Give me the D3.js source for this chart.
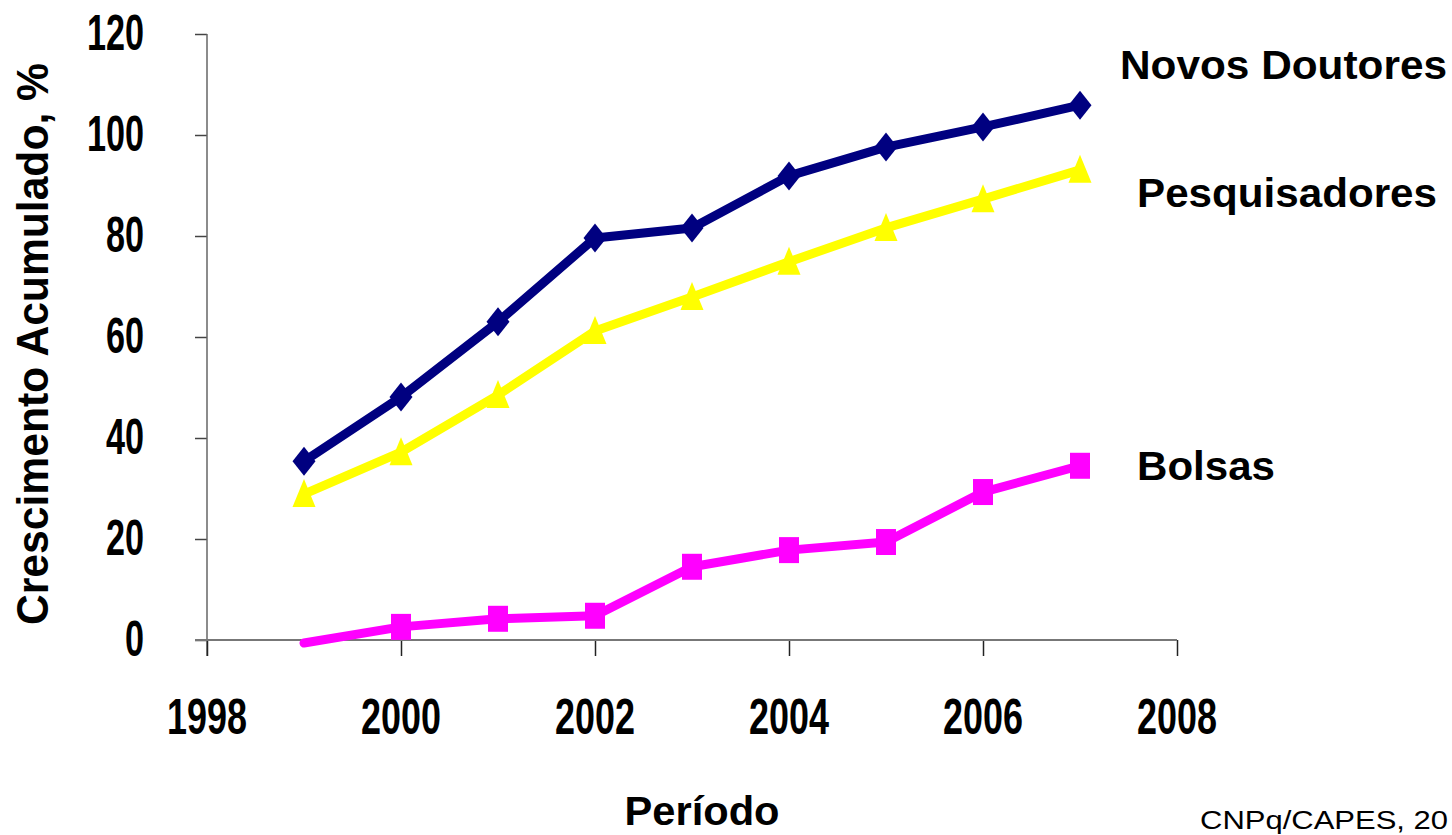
<!DOCTYPE html>
<html>
<head>
<meta charset="utf-8">
<script src="https://cdn.jsdelivr.net/npm/d3@7"></script>
<style>
  html, body { margin: 0; padding: 0; background: #fff; }
  svg { display: block; }
  text { font-family: "Liberation Sans", Arial, sans-serif; font-weight: bold; fill: #000; }
</style>
</head>
<body>
<svg id="chart" width="1452" height="835"></svg>
<script>
// ---- data ----
const years = [1999, 2000, 2001, 2002, 2003, 2004, 2005, 2006, 2007];
const novosDoutores = [35.4, 48.1, 63.0, 79.6, 81.6, 91.9, 97.6, 101.6, 105.9];
const pesquisadores = [28.9, 37.2, 48.5, 61.2, 67.9, 74.9, 81.6, 87.3, 93.1];
const bolsas = [-0.6, 2.6, 4.2, 4.8, 14.5, 17.8, 19.4, 29.3, 34.5];
const xTicks = [1998, 2000, 2002, 2004, 2006, 2008];
const yTicks = [0, 20, 40, 60, 80, 100, 120];
const seriesNames = ["Novos Doutores", "Pesquisadores", "Bolsas"];
const xTitle = "Período";
const yTitle = "Crescimento Acumulado, %";
const source = "CNPq/CAPES, 20";

const svg = d3.select("#chart");
const x = d3.scaleLinear().domain([1998, 2008]).range([207, 1177]);
const y = d3.scaleLinear().domain([0, 120]).range([640, 34]);

// ---- axes ----
const yAxis = svg.append("g").attr("transform", "translate(207,0)")
  .call(d3.axisLeft(y).tickValues(yTicks).tickSize(12).tickSizeOuter(0));
yAxis.select(".domain").remove();
yAxis.selectAll(".tick line").attr("stroke", "#444").attr("stroke-width", 1.5);
yAxis.selectAll(".tick text").remove();
svg.append("line").attr("x1", 207).attr("x2", 207).attr("y1", y(120)).attr("y2", 656)
  .attr("stroke", "#666").attr("stroke-width", 1.5);

const xAxis = svg.append("g").attr("transform", "translate(0,640)")
  .call(d3.axisBottom(x).tickValues(xTicks).tickSize(16).tickSizeOuter(0));
xAxis.select(".domain").remove();
xAxis.selectAll(".tick line").attr("stroke", "#222").attr("stroke-width", 1.5);
xAxis.selectAll(".tick text").remove();
svg.append("line").attr("x1", 195).attr("x2", x(2008)).attr("y1", 640).attr("y2", 640)
  .attr("stroke", "#777").attr("stroke-width", 2);

// tick labels (condensed bold)
svg.selectAll(".ylab").data(yTicks).join("text")
  .attr("class", "ylab")
  .attr("x", 144).attr("y", d => y(d) + 16)
  .attr("text-anchor", "end")
  .attr("font-size", 50)
  .attr("textLength", d => String(d).length * 19)
  .attr("lengthAdjust", "spacingAndGlyphs")
  .text(d => d);

svg.selectAll(".xlab").data(xTicks).join("text")
  .attr("class", "xlab")
  .attr("x", d => x(d)).attr("y", 734)
  .attr("text-anchor", "middle")
  .attr("font-size", 50)
  .attr("textLength", 80)
  .attr("lengthAdjust", "spacingAndGlyphs")
  .text(d => d);

// axis titles
svg.append("text")
  .attr("transform", "translate(48,344) rotate(-90)")
  .attr("text-anchor", "middle")
  .attr("font-size", 45)
  .attr("textLength", 562)
  .attr("lengthAdjust", "spacingAndGlyphs")
  .text(yTitle);

svg.append("text")
  .attr("x", 702).attr("y", 825)
  .attr("text-anchor", "middle")
  .attr("font-size", 40)
  .attr("textLength", 155)
  .attr("lengthAdjust", "spacingAndGlyphs")
  .text(xTitle);

svg.append("text")
  .attr("x", 1200).attr("y", 829)
  .attr("font-size", 26)
  .style("font-weight", "normal")
  .attr("textLength", 248)
  .attr("lengthAdjust", "spacingAndGlyphs")
  .text(source);

// ---- series ----
const line = d3.line().x((d, i) => x(years[i])).y(d => y(d));

function drawSeries(values, color, shape, skipFirstMarker) {
  svg.append("path").datum(values)
    .attr("d", line)
    .attr("fill", "none").attr("stroke", color)
    .attr("stroke-width", 9).attr("stroke-linejoin", "round").attr("stroke-linecap", "round");
  const pts = values.map((v, i) => [x(years[i]), y(v)]).filter((p, i) => !(skipFirstMarker && i === 0));
  svg.selectAll(null).data(pts).join("path")
    .attr("d", p => shape(p[0], p[1]))
    .attr("fill", color);
}
const square = (cx, cy) => `M${cx - 10},${cy - 13}h20v26h-20Z`;
const diamond = (cx, cy) => `M${cx},${cy - 14.5}L${cx + 11.5},${cy}L${cx},${cy + 14.5}L${cx - 11.5},${cy}Z`;
const triangle = (cx, cy) => `M${cx},${cy - 15}L${cx + 11.5},${cy + 13}L${cx - 11.5},${cy + 13}Z`;

drawSeries(bolsas, "#FF00FF", square, true);
drawSeries(pesquisadores, "#FFFF00", triangle, false);
drawSeries(novosDoutores, "#000080", diamond, false);

// series labels
const labelPos = [[1120, 79, 327], [1137, 207, 300], [1137, 480, 138]];
svg.selectAll(".slab").data(seriesNames).join("text")
  .attr("class", "slab")
  .attr("x", (d, i) => labelPos[i][0]).attr("y", (d, i) => labelPos[i][1])
  .attr("font-size", 40)
  .attr("textLength", (d, i) => labelPos[i][2])
  .attr("lengthAdjust", "spacingAndGlyphs")
  .text(d => d);
</script>
</body>
</html>
